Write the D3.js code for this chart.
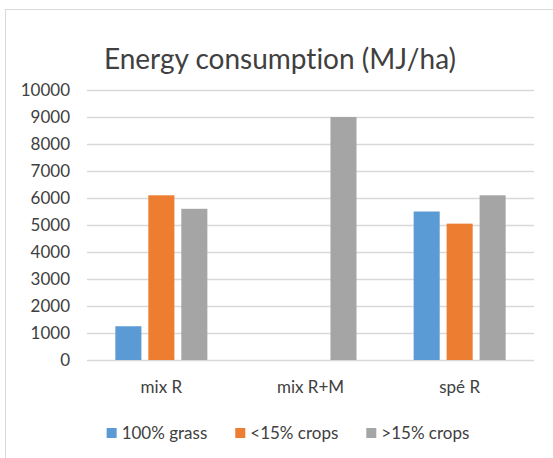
<!DOCTYPE html>
<html>
<head>
<meta charset="utf-8">
<script src="https://cdn.jsdelivr.net/npm/d3@7"></script>
<style>
  body { margin: 0; background: #fff; }
  svg { display: block; font-family: Lato, "Open Sans", sans-serif; font-variant-ligatures: none; }
</style>
</head>
<body>
<svg class="chart" width="553" height="458"></svg>
<script>
// data
var categories = ["mix R", "mix R+M", "spé R"];
var seriesNames = ["100% grass", "<15% crops", ">15% crops"];
var grass = [1250, 0, 5500];
var cropsLow = [6100, 0, 5050];
var cropsHigh = [5600, 9000, 6100];
var yTicks = [0, 1000, 2000, 3000, 4000, 5000, 6000, 7000, 8000, 9000, 10000];
var colors = ["#5b9bd5", "#ed7d31", "#a5a5a5"];

var series = [grass, cropsLow, cropsHigh];

var svg = d3.select(".chart");

var plotLeft = 87, plotRight = 534, plotTop = 90, plotBottom = 360;

// chart area frame (runs off the right / bottom edge)
svg.append("rect")
    .attr("x", 5.5).attr("y", 9.5)
    .attr("width", 700).attr("height", 600)
    .attr("fill", "none")
    .attr("stroke", "#d9d9d9");

// title
svg.append("text")
    .attr("x", 280).attr("y", 69)
    .attr("text-anchor", "middle")
    .style("font-size", "28px")
    .style("fill", "#404040")
    .text("Energy consumption (MJ/ha)");

var x0 = d3.scaleBand()
    .domain(categories)
    .range([plotLeft, plotRight])
    .paddingInner(0.383)
    .paddingOuter(0.19);

var x1 = d3.scaleBand()
    .domain(d3.range(seriesNames.length))
    .range([0, x0.bandwidth()])
    .paddingInner(0.21);

var y = d3.scaleLinear()
    .domain([0, 10000])
    .range([plotBottom, plotTop]);

// gridlines + tick labels
var yAxis = d3.axisLeft(y)
    .tickValues(yTicks)
    .tickSize(-(plotRight - plotLeft))
    .tickPadding(17)
    .tickFormat(d3.format("d"));

var gy = svg.append("g")
    .attr("transform", "translate(" + plotLeft + ",0)")
    .call(yAxis);
gy.select(".domain").remove();
gy.selectAll(".tick line").attr("stroke", "#d9d9d9").attr("stroke-width", 1.3);
gy.selectAll(".tick text")
    .style("font-size", "17px")
    .style("fill", "#404040")
    .style("font-family", "Lato, sans-serif");

// bars
var groups = svg.selectAll("g.group")
    .data(categories)
    .enter().append("g")
    .attr("class", "group")
    .attr("transform", function(d) { return "translate(" + x0(d) + ",0)"; });

groups.selectAll("rect")
    .data(function(d, i) {
        return series.map(function(s, k) { return {k: k, v: s[i]}; });
    })
    .enter().append("rect")
    .attr("x", function(d) { return x1(d.k); })
    .attr("y", function(d) { return y(d.v); })
    .attr("width", x1.bandwidth())
    .attr("height", function(d) { return y(0) - y(d.v); })
    .attr("fill", function(d) { return colors[d.k]; });

// category labels
svg.selectAll("text.cat")
    .data(categories)
    .enter().append("text")
    .attr("class", "cat")
    .attr("x", function(d) { return x0(d) + x0.bandwidth() / 2; })
    .attr("y", 393)
    .attr("text-anchor", "middle")
    .style("font-size", "17px")
    .style("fill", "#404040")
    .text(function(d) { return d; });

// legend
var legend = svg.append("g");
var lx = 0;
seriesNames.forEach(function(name, k) {
    var item = legend.append("g").attr("transform", "translate(" + lx + ",0)");
    item.append("rect")
        .attr("x", 0).attr("y", -5)
        .attr("width", 10).attr("height", 10)
        .attr("fill", colors[k]);
    var t = item.append("text")
        .attr("x", 15).attr("y", 6)
        .style("font-size", "17px")
        .style("fill", "#404040")
        .text(name);
    lx += 15 + t.node().getComputedTextLength() + 28;
});
var legendW = lx - 28;
legend.attr("transform", "translate(" + (288 - legendW / 2) + ",433)");
</script>
</body>
</html>
